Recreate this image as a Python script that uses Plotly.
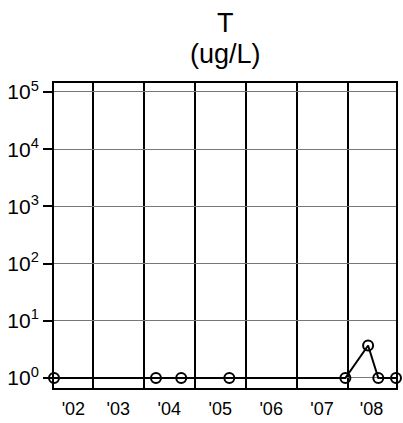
import plotly.graph_objects as go

# Sample dates and concentrations
dates = ["2002-03-28", "2004-03-28", "2004-09-25", "2005-09-05",
         "2007-12-16", "2008-05-27", "2008-08-08", "2008-12-13"]
values = [1.0, 1.0, 1.0, 1.0, 1.0, 3.7, 1.0, 1.0]

# Year boundaries (vertical grid) and year label positions
year_bounds = ["2003-01-01", "2004-01-01", "2005-01-01", "2006-01-01",
               "2007-01-01", "2008-01-01"]
label_dates = ["2002-08-14", "2003-07-02", "2004-07-02", "2005-07-02",
               "2006-07-02", "2007-07-02", "2008-06-21"]
label_text = ["'02", "'03", "'04", "'05", "'06", "'07", "'08"]

y_ticks = [1, 10, 100, 1000, 10000, 100000]
y_text = ["10<sup>0</sup>", "10<sup>1</sup>", "10<sup>2</sup>",
          "10<sup>3</sup>", "10<sup>4</sup>", "10<sup>5</sup>"]

FONT = "Liberation Sans, Arial, sans-serif"

fig = go.Figure(go.Scatter(
    x=dates, y=values, mode="lines+markers",
    line=dict(color="black", width=2),
    marker=dict(symbol="circle-open", size=10, color="black",
                line=dict(width=2, color="black")),
    cliponaxis=False, showlegend=False,
))

fig.update_layout(
    width=403, height=423,
    margin=dict(l=54, r=7, t=83, b=35),
    paper_bgcolor="white", plot_bgcolor="white",
    font=dict(family=FONT, color="black"),
    annotations=[
        dict(text="T", xref="paper", yref="paper", x=0.5, y=1.196,
             xanchor="center", yanchor="middle", showarrow=False,
             font=dict(size=27, family=FONT, color="black")),
        dict(text="(ug/L)", xref="paper", yref="paper", x=0.5, y=1.095,
             xanchor="center", yanchor="middle", showarrow=False,
             font=dict(size=27, family=FONT, color="black")),
    ],
)

fig.update_xaxes(
    type="date", range=[dates[0], dates[-1]],
    tickmode="array", tickvals=label_dates, ticktext=label_text,
    ticks="", showgrid=False, tickfont=dict(size=18, family=FONT),
    ticklabelstandoff=3, automargin=False,
    showline=True, linecolor="black", linewidth=2, mirror=True,
    minor=dict(tickmode="array", tickvals=year_bounds, showgrid=True,
               gridcolor="black", gridwidth=2, ticks=""),
    zeroline=False,
)

fig.update_yaxes(
    type="log", range=[-0.175, 5.157], automargin=False,
    tickmode="array", tickvals=y_ticks, ticktext=y_text,
    ticks="outside", ticklen=9, tickwidth=2, tickcolor="black",
    tickfont=dict(size=21, family=FONT),
    showgrid=True, gridcolor="#777", gridwidth=1,
    showline=True, linecolor="black", linewidth=2, mirror=True,
    zeroline=False,
)

fig.write_html("out.html")
